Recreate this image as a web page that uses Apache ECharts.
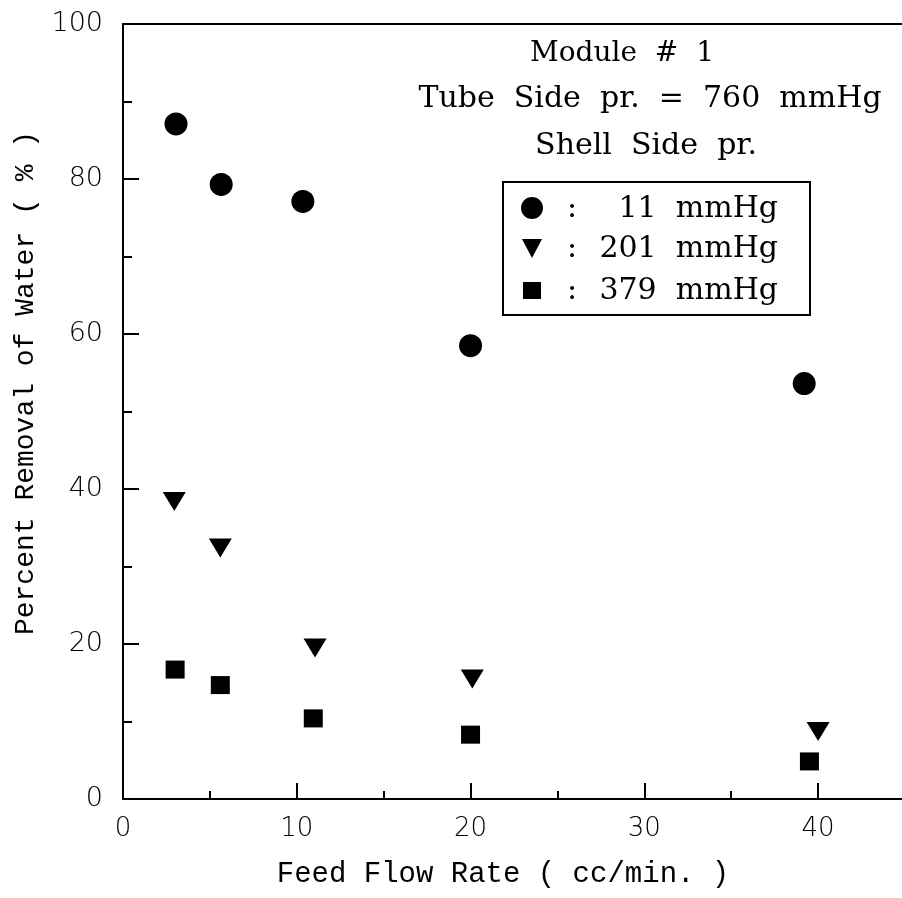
<!DOCTYPE html>
<html>
<head>
<meta charset="utf-8">
<script src="https://cdn.jsdelivr.net/npm/echarts@6/dist/echarts.min.js"></script>
<style>
html,body{margin:0;padding:0;background:#fff;}
#chart{width:902px;height:898px;}
</style>
</head>
<body>
<div id="chart"></div>
<script>
// Data
var seriesNames = ['11 mmHg', '201 mmHg', '379 mmHg'];
var flow11 = [3.05, 5.65, 10.35, 20.0, 39.2];
var removal11 = [87.1, 79.3, 77.1, 58.5, 53.6];
var flow201 = [2.95, 5.6, 11.05, 20.1, 40.0];
var removal201 = [38.4, 32.4, 19.5, 15.5, 8.7];
var flow379 = [3.0, 5.6, 10.95, 20.0, 39.5];
var removal379 = [16.7, 14.7, 10.4, 8.3, 4.85];
var xTicks = [0, 10, 20, 30, 40];
var yTicks = [0, 20, 40, 60, 80, 100];
var annotationLines = ['Module  #  1', 'Tube  Side  pr.  =  760  mmHg', 'Shell  Side  pr.'];

function pairs(xs, ys) { return xs.map(function (x, i) { return [x, ys[i]]; }); }

var tickFont = '"DejaVu Sans", sans-serif';
var serifFont = '"DejaVu Serif", serif';
var monoFont = '"Liberation Mono", "DejaVu Sans Mono", monospace';
var triPath = 'path://M0,0 L20,0 L10,17 Z';

function txt(x, y, s, size, align) {
  return {type: 'text', x: x, y: y, style: {text: s, font: size + 'px ' + serifFont, fill: '#000',
    textAlign: align, textVerticalAlign: 'middle', align: align, verticalAlign: 'middle'}};
}

var chart = echarts.init(document.getElementById('chart'), null, {renderer: 'canvas'});
chart.setOption({
  animation: false,
  backgroundColor: '#fff',
  grid: {left: 123, top: 24, width: 782, height: 775, show: false, containLabel: false, outerBoundsMode: 'none'},
  xAxis: {
    type: 'value', min: 0, max: 45, interval: 10,
    axisLine: {show: true, lineStyle: {color: '#000', width: 2}},
    axisTick: {show: true, inside: true, length: 16, lineStyle: {color: '#000', width: 2}},
    minorTick: {show: true, splitNumber: 2, length: 8, lineStyle: {color: '#000', width: 2}},
    splitLine: {show: false},
    axisLabel: {
      margin: 17, color: '#000', fontFamily: tickFont, fontSize: 26, fontWeight: 200,
      formatter: function (v) { return xTicks.indexOf(v) >= 0 ? String(v) : ''; }
    }
  },
  yAxis: {
    type: 'value', min: 0, max: 100, interval: 20,
    axisLine: {show: true, lineStyle: {color: '#000', width: 2}},
    axisTick: {show: true, inside: true, length: 16, lineStyle: {color: '#000', width: 2}},
    minorTick: {show: true, splitNumber: 2, length: 9, lineStyle: {color: '#000', width: 2}},
    splitLine: {show: false},
    axisLabel: {
      margin: 20, color: '#000', fontFamily: tickFont, fontSize: 27, fontWeight: 200,
      formatter: function (v) { return yTicks.indexOf(v) >= 0 ? String(v) : ''; }
    }
  },
  series: [
    {name: seriesNames[0], type: 'scatter', data: pairs(flow11, removal11), symbol: 'circle', symbolSize: 23, itemStyle: {color: '#000', opacity: 1}},
    {name: seriesNames[1], type: 'scatter', data: pairs(flow201, removal201), symbol: triPath, symbolSize: [23, 19], itemStyle: {color: '#000', opacity: 1}},
    {name: seriesNames[2], type: 'scatter', data: pairs(flow379, removal379), symbol: 'rect', symbolSize: [19, 18], itemStyle: {color: '#000', opacity: 1}}
  ],
  graphic: [
    {type: 'line', shape: {x1: 122, y1: 24, x2: 902, y2: 24}, style: {stroke: '#000', lineWidth: 2}},
    {type: 'text', x: 503, y: 874, style: {text: 'Feed Flow Rate ( cc/min. )', font: '29px ' + monoFont, fill: '#000', textAlign: 'center', textVerticalAlign: 'middle', align: 'center', verticalAlign: 'middle'}},
    {type: 'text', x: 26, y: 383, rotation: Math.PI / 2, style: {text: 'Percent Removal of Water ( % )', font: '28px ' + monoFont, fill: '#000', textAlign: 'center', textVerticalAlign: 'middle', align: 'center', verticalAlign: 'middle'}},
    txt(622, 54, annotationLines[0], 28, 'center'),
    txt(650, 99, annotationLines[1], 30, 'center'),
    txt(646, 146, annotationLines[2], 30, 'center'),
    {type: 'rect', shape: {x: 503, y: 182, width: 307, height: 133}, style: {fill: '#fff', stroke: '#000', lineWidth: 2}},
    {type: 'circle', shape: {cx: 532, cy: 208, r: 11}, style: {fill: '#000'}},
    {type: 'polygon', shape: {points: [[522, 239], [542, 239], [532, 258]]}, style: {fill: '#000'}},
    {type: 'rect', shape: {x: 523, y: 282, width: 18, height: 17}, style: {fill: '#000'}},
    txt(572, 209, ':', 30, 'center'),
    txt(572, 249, ':', 30, 'center'),
    txt(572, 291, ':', 30, 'center'),
    txt(778, 209, seriesNames[0].replace(' ', '  '), 30, 'right'),
    txt(778, 249, seriesNames[1].replace(' ', '  '), 30, 'right'),
    txt(778, 291, seriesNames[2].replace(' ', '  '), 30, 'right')
  ]
});
</script>
</body>
</html>
